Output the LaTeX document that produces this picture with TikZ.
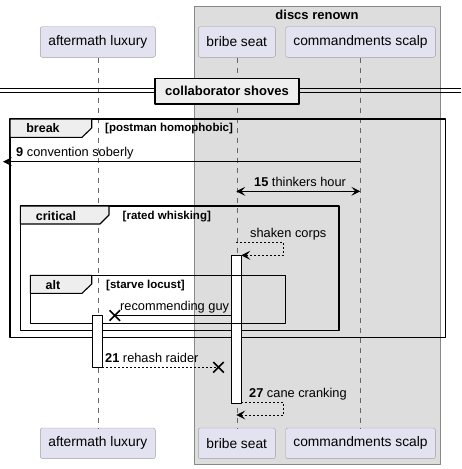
\documentclass[tikz,border=0pt]{standalone}
\usepackage{fontspec}
\setmainfont{Liberation Sans}
\usetikzlibrary{arrows.meta,shapes.misc}
\definecolor{partfill}{HTML}{E2E2F0}
\definecolor{partline}{HTML}{A0A0A0}
\definecolor{boxfill}{HTML}{DDDDDD}
\definecolor{boxline}{HTML}{888888}
\definecolor{tabfill}{HTML}{EEEEEE}
\tikzset{
  every picture/.style={line join=round, >=Stealth},
  part/.style={draw=partline, fill=partfill, rounded corners=2pt, minimum height=30.6pt,
    inner sep=0pt, font=\fontsize{13.8}{15}\selectfont},
  life/.style={draw=black!60, dash pattern=on 5pt off 5pt, line width=0.6pt},
  msg/.style={-{Stealth[length=9pt,width=9pt,inset=4pt]}, line width=0.7pt},
  dmsg/.style={msg, dash pattern=on 2pt off 2pt},
  msgtxt/.style={inner sep=0pt, anchor=base west, font=\fontsize{12.8}{14}\selectfont},
  frame/.style={draw, line width=1.4pt},
  tab/.style={draw, fill=tabfill, line width=1.1pt},
  optxt/.style={inner sep=0pt, font=\bfseries\fontsize{12.5}{14}\selectfont},
  guardtxt/.style={inner sep=0pt, anchor=base west, font=\bfseries\fontsize{11.5}{13}\selectfont},
  activ/.style={draw, fill=white, line width=0.8pt},
  kill/.style={cross out, draw, line width=1.5pt, minimum size=9pt, inner sep=0pt},
}
\begin{document}
\begin{tikzpicture}[x=1pt,y=-1pt]
\useasboundingbox (0,0) rectangle (461,469);
% group box
\draw[draw=boxline, fill=boxfill] (194.3,6) rectangle (439.7,464);
\node[optxt, font=\bfseries\fontsize{13}{15}\selectfont] (grp) at (317,15) {discs renown};
% participants
\node[part, minimum width=115pt] (al) at (97.8,42) {aftermath luxury};
\node[part, minimum width=77pt] (bs) at (236.8,42) {bribe seat};
\node[part, minimum width=149.6pt] (cs) at (360.5,42) {commandments scalp};
\node[part, minimum width=115pt] (alb) at (97.8,443.3) {aftermath luxury};
\node[part, minimum width=77pt] (bsb) at (236.8,443.3) {bribe seat};
\node[part, minimum width=149.6pt] (csb) at (360.5,443.3) {commandments scalp};
\draw[life] (al.south) -- (alb.north);
\draw[life] (bs.south) -- (bsb.north);
\draw[life] (cs.south) -- (csb.north);
% divider
\draw[line width=0.8pt] (0,88.3) -- (461,88.3) (0,92.3) -- (461,92.3);
\node[draw, fill=tabfill, line width=1.6pt, minimum width=144pt, minimum height=25.7pt,
  inner sep=0pt, font=\bfseries\fontsize{13}{15}\selectfont] (div) at (227,91.2) {collaborator shoves};
% break frame
\draw[frame] (10,119) rectangle (445.7,337.3);
\draw[tab] (10,119) -- (91.7,119) -- (91.7,128) -- (82,137.3) -- (10,137.3) -- cycle;
\node[optxt] (brk) at (43,128) {break};
\node[guardtxt] (brkg) at (105,131.5) {[postman homophobic]};
% 9
\coordinate (m9s) at (360.3,161.7);
\coordinate (m9e) at (3,161.7);
\draw[msg] (m9s) -- (m9e);
\node[msgtxt] (m9) at (16,156) {\textbf{9} convention soberly};
% 15
\coordinate (m15a) at (236.3,191.3);
\coordinate (m15b) at (360.3,191.3);
\draw[msg, {Stealth[length=9pt,width=9pt,inset=4pt]}-{Stealth[length=9pt,width=9pt,inset=4pt]}] (m15a) -- (m15b);
\node[msgtxt] (m15) at (254,186) {\textbf{15} thinkers hour};
% critical frame
\draw[frame] (20.3,206) rectangle (339,330.7);
\draw[tab] (20.3,206) -- (109,206) -- (109,215) -- (100,224) -- (20.3,224) -- cycle;
\node[optxt] (crit) at (56,216) {critical};
\node[guardtxt] (critg) at (122.5,219.5) {[rated whisking]};
% shaken corps
\coordinate (scs) at (236.3,242.3);
\coordinate (sce) at (241.3,255.3);
\draw[dmsg] (scs) -- (283.7,242.3) -- (283.7,255.3) -- (sce);
\node[msgtxt] (sc) at (250,237) {shaken corps};
\draw[activ] (231.7,255.3) rectangle (241.3,403);
% alt frame
\draw[frame] (30.3,275.3) rectangle (285.7,323.3);
\draw[tab] (30.3,275.3) -- (91.7,275.3) -- (91.7,284) -- (82,293.3) -- (30.3,293.3) -- cycle;
\node[optxt] (alt) at (53,285) {alt};
\node[guardtxt] (altg) at (106,288) {[starve locust]};
% recommending guy
\node[kill] (x1) at (114.8,315.5) {};
\coordinate (rgs) at (231.7,315.5);
\draw[line width=0.7pt] (rgs) -- (x1.center);
\node[msgtxt] (rg) at (120,310.5) {recommending guy};
\draw[activ] (92.3,315.5) rectangle (102.3,367.3);
% 21
\node[kill] (x2) at (218.5,367.3) {};
\coordinate (m21s) at (102.3,367.3);
\draw[line width=0.7pt, dash pattern=on 2pt off 2pt] (m21s) -- (x2.center);
\node[msgtxt] (m21) at (105,362) {\textbf{21} rehash raider};
% 27
\coordinate (m27s) at (241.3,402.3);
\coordinate (m27e) at (236.3,415);
\draw[dmsg] (m27s) -- (283.7,402.3) -- (283.7,415) -- (m27e);
\node[msgtxt] (m27) at (249,397) {\textbf{27} cane cranking};
\end{tikzpicture}
\end{document}
